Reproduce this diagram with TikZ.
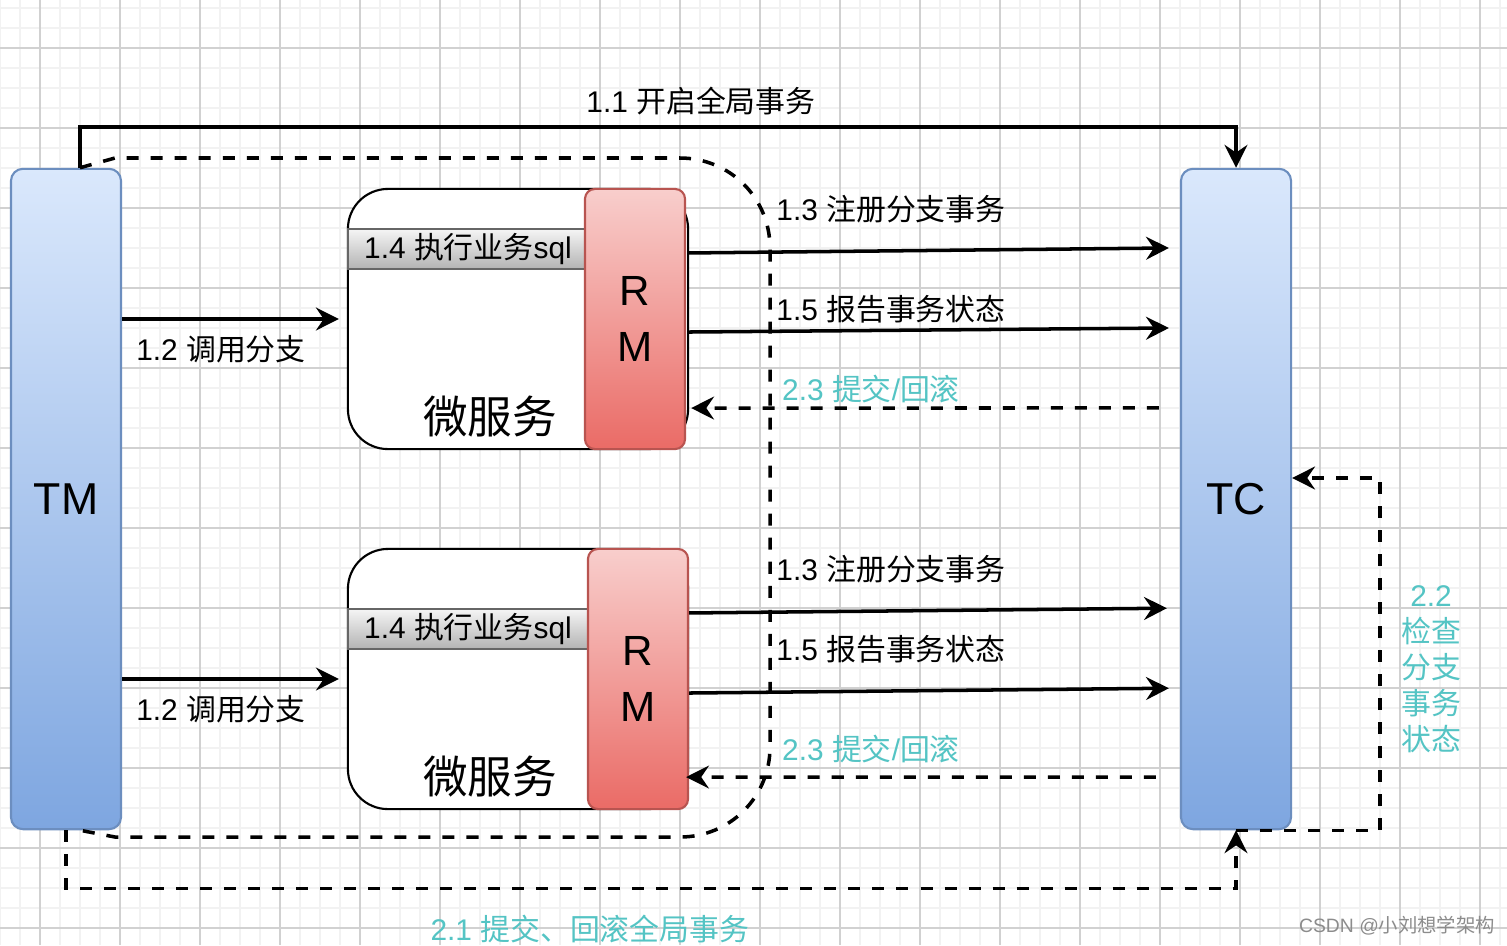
\documentclass[tikz,border=0pt]{standalone}
\usepackage{fontspec}
\setmainfont{Liberation Sans}
\newfontfamily\cjk{Noto Sans CJK SC}
\usetikzlibrary{arrows.meta}
\definecolor{tmtop}{HTML}{DAE8FC}
\definecolor{tmbot}{HTML}{7EA6E0}
\definecolor{tmline}{HTML}{6C8EBF}
\definecolor{rmtop}{HTML}{F8CECC}
\definecolor{rmbot}{HTML}{EA6B66}
\definecolor{rmline}{HTML}{B85450}
\definecolor{sqltop}{HTML}{F5F5F5}
\definecolor{sqlbot}{HTML}{B3B3B3}
\definecolor{sqlline}{HTML}{666666}
\definecolor{tealtxt}{RGB}{84,196,196}
\tikzset{
  minorgrid/.style={draw=black!5, line width=0.4pt},
  majorgrid/.style={draw=black!18, line width=0.4pt},
  lbl/.style={font=\fontsize{8.5}{10.2}\selectfont, inner sep=0},
  tlbl/.style={lbl, text=tealtxt},
  bigtxt/.style={font=\fontsize{12.7}{15}\selectfont},
  party/.style={draw=tmline, line width=0.6pt, rounded corners=0.12cm,
    top color=tmtop, bottom color=tmbot, inner sep=0,
    minimum width=1.1cm, minimum height=6.6cm, bigtxt},
  msbox/.style={draw, line width=0.6pt, rounded corners=0.4cm, fill=white,
    inner sep=0, minimum width=3.4cm, minimum height=2.6cm},
  sqlbox/.style={draw=sqlline, line width=0.6pt, top color=sqltop,
    bottom color=sqlbot, inner sep=0, minimum width=2.4cm,
    minimum height=0.4cm, lbl},
  rmbox/.style={draw=rmline, line width=0.6pt, rounded corners=0.1cm,
    top color=rmtop, bottom color=rmbot, inner sep=0, align=center,
    minimum width=1cm, minimum height=2.6cm,
    font=\fontsize{12}{15.9}\selectfont},
  arr/.style={line width=1pt, -{Stealth[length=6.5pt, width=6.5pt, inset=2.2pt]}},
  dasharr/.style={arr, dash pattern=on 0.12cm off 0.12cm},
  dashline/.style={line width=1pt, dash pattern=on 0.12cm off 0.12cm}
}
\begin{document}
\begin{tikzpicture}[x=0.01cm, y=-0.01cm]
  \useasboundingbox[fill=white] (0,0) rectangle (1507,945);
  % grid
  \foreach \x in {0,20,...,1500} \draw[minorgrid] (\x,0) -- (\x,945);
  \foreach \y in {8,28,...,940} \draw[minorgrid] (0,\y) -- (1507,\y);
  \foreach \x in {40,120,...,1500} \draw[majorgrid] (\x,0) -- (\x,945);
  \foreach \y in {48,128,...,940} \draw[majorgrid] (0,\y) -- (1507,\y);

  % TM and TC
  \node[party] (tm) at (66,499) {TM};
  \node[party] (tc) at (1236,499) {TC};

  % the two micro services
  \node[msbox] (ms1) at (518,319) {};
  \node[sqlbox] (sql1) at (468,249) {1.4 {\cjk 执行业务}sql};
  \node[bigtxt, inner sep=0] (ms1txt) at (490,417) {\cjk 微服务};
  \node[rmbox] (rm1) at (635,319) {R\\M};

  \node[msbox] (ms2) at (518,679) {};
  \node[sqlbox] (sql2) at (468,629) {1.4 {\cjk 执行业务}sql};
  \node[bigtxt, inner sep=0] (ms2txt) at (490,777) {\cjk 微服务};
  \node[rmbox] (rm2) at (638,679) {R\\M};

  % 1.1
  \draw[arr] ([xshift=0.14cm]tm.north) -- ++(0,-41) -| (tc.north);
  \node[lbl] (l11) at (701,101) {1.1 {\cjk 开启全局事务}};

  % dashed loop round the services
  \draw[dashline] ([xshift=0.14cm]tm.north) -- (115,158) -- (680,158)
    .. controls (730,158) and (770,198) .. (770,248) -- (770,747)
    .. controls (770,797) and (730,837) .. (680,837) -- (115,837)
    -- ([xshift=0.14cm]tm.south);

  % 1.2
  \draw[arr, shorten >=0.08cm] (tm.east |- ms1.west) -- (ms1.west);
  \draw[arr, shorten >=0.08cm] (tm.east |- ms2.west) -- (ms2.west);
  \node[lbl] (l12a) at (221,349) {1.2 {\cjk 调用分支}};
  \node[lbl] (l12b) at (221,709) {1.2 {\cjk 调用分支}};

  % upper service and TC
  \draw[arr, shorten >=0.11cm] ([yshift=0.66cm]ms1.east) -- ([yshift=2.51cm]tc.west);
  \draw[arr, shorten >=0.11cm] ([yshift=-0.13cm]ms1.east) -- ([yshift=1.71cm]tc.west);
  \draw[dasharr, shorten <=0.21cm, shorten >=0.02cm] ([yshift=0.91cm]tc.west) -- ([yshift=-0.89cm]ms1.east);
  \node[lbl] (l13a) at (891,209) {1.3 {\cjk 注册分支事务}};
  \node[lbl] (l15a) at (891,309) {1.5 {\cjk 报告事务状态}};
  \node[tlbl] (l23a) at (871,389) {2.3 {\cjk 提交}/{\cjk 回滚}};

  % lower service and TC
  \draw[arr, shorten >=0.13cm] ([yshift=0.66cm]rm2.east) -- ([yshift=-1.09cm]tc.west);
  \draw[arr, shorten >=0.11cm] ([yshift=-0.14cm]rm2.east) -- ([yshift=-1.89cm]tc.west);
  \draw[dasharr, shorten <=0.24cm, shorten >=-0.03cm] ([yshift=-2.78cm]tc.west) -- ([yshift=-0.98cm]rm2.east);
  \node[lbl] (l13b) at (891,569) {1.3 {\cjk 注册分支事务}};
  \node[lbl] (l15b) at (891,649) {1.5 {\cjk 报告事务状态}};
  \node[tlbl] (l23b) at (871,749) {2.3 {\cjk 提交}/{\cjk 回滚}};

  % 2.2
  \draw[dasharr] (tc.south) -- ++(144,0) |- ([yshift=0.21cm]tc.east);
  \node[tlbl, align=center] (l22) at (1431,669) {2.2\\{\cjk 检查}\\{\cjk 分支}\\{\cjk 事务}\\{\cjk 状态}};

  % 2.1
  \draw[dasharr] (tm.south) -- ++(0,58) -| (tc.south);
  \node[tlbl] (l21) at (590,929) {2.1 {\cjk 提交、回滚全局事务}};

  \node[lbl, font=\fontsize{5.5}{7}\selectfont, text=black!45] (mark) at (1397,926) {CSDN @{\cjk 小刘想学架构}};
\end{tikzpicture}
\end{document}
